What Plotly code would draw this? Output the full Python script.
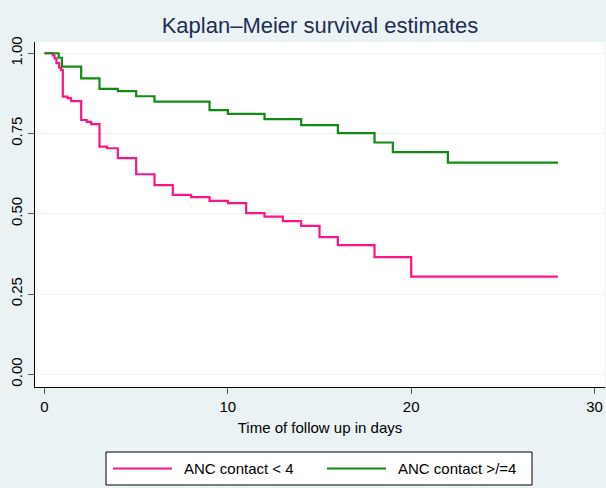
import plotly.graph_objects as go

# Kaplan–Meier step estimates by ANC contact group
series_names = ["ANC contact < 4", "ANC contact >/=4"]

low_times = [0, 0.45, 0.55, 0.65, 0.8, 0.9, 1.0, 1.25, 1.45, 2.0, 2.3, 2.55, 3.0, 3.4,
             4, 5, 6, 7, 8, 9, 10, 11, 12, 13, 14, 15, 16, 18, 20, 28]
low_surv = [1.0, 0.993, 0.984, 0.969, 0.955, 0.948, 0.865, 0.860, 0.851, 0.792, 0.786,
            0.779, 0.709, 0.704, 0.673, 0.623, 0.589, 0.559, 0.552, 0.540, 0.533, 0.502,
            0.491, 0.477, 0.462, 0.427, 0.402, 0.365, 0.304, 0.304]

high_times = [0, 0.77, 0.95, 2, 3, 4, 5, 6, 9, 10, 12, 14, 16, 18, 19, 22, 28]
high_surv = [1.0, 0.986, 0.958, 0.922, 0.889, 0.882, 0.866, 0.849, 0.823, 0.811, 0.795,
             0.776, 0.751, 0.722, 0.692, 0.659, 0.659]

x_ticks = [0, 10, 20, 30]
y_ticks = [0.0, 0.25, 0.5, 0.75, 1.0]
y_tick_text = ["0.00", "0.25", "0.50", "0.75", "1.00"]

colors = ["#FF1487", "#138A13"]

W, H = 606, 488
ML, MR, MT, MB = 35, 1, 42, 101
PW, PH = W - ML - MR, H - MT - MB
FONT = "Liberation Sans, Arial, sans-serif"


def px(xp):
    return (xp - ML) / PW


def py(yp):
    return (H - MB - yp) / PH


fig = go.Figure()
for name, t, s, c in [(series_names[0], low_times, low_surv, colors[0]),
                      (series_names[1], high_times, high_surv, colors[1])]:
    fig.add_trace(go.Scatter(x=t, y=s, mode="lines", name=name,
                             line=dict(color=c, width=2.2, shape="hv"),
                             showlegend=False))

# framed legend below the axis title
shapes = [dict(type="rect", xref="paper", yref="paper",
               x0=px(106), x1=px(532), y0=py(485), y1=py(452),
               line=dict(color="#000000", width=1), fillcolor="#FFFFFF", layer="above")]
annotations = []
entries = [(113, 172, 182), (327, 386, 396)]
for (l0, l1, tx), name, c in zip(entries, series_names, colors):
    shapes.append(dict(type="line", xref="paper", yref="paper",
                       x0=px(l0), x1=px(l1), y0=py(468.5), y1=py(468.5),
                       line=dict(color=c, width=2.2)))
    annotations.append(dict(xref="paper", yref="paper", x=px(tx), y=py(468.5),
                            text=name, showarrow=False, xanchor="left", yanchor="middle",
                            font=dict(family=FONT, size=15, color="#000000")))

fig.update_layout(
    width=W, height=H,
    margin=dict(l=ML, r=MR, t=MT, b=MB),
    paper_bgcolor="#EAF2F3",
    plot_bgcolor="#FFFFFF",
    title=dict(text="Kaplan–Meier survival estimates", x=px(320), xref="paper",
               xanchor="center", y=1 - 25 / H, yref="container", yanchor="middle",
               font=dict(family=FONT, size=22, color="#1E2D53")),
    shapes=shapes,
    annotations=annotations,
    showlegend=False,
)

fig.update_xaxes(
    range=[-0.518, 30.57], tickvals=x_ticks, ticks="outside", ticklen=6,
    tickcolor="#555555", showline=True, linecolor="#000000", linewidth=1,
    showgrid=False, zeroline=False,
    tickfont=dict(family=FONT, size=15, color="#000000"),
    title=dict(text="Time of follow up in days", standoff=8,
               font=dict(family=FONT, size=15, color="#000000")),
)
fig.update_yaxes(
    range=[-0.0396, 1.035], tickvals=y_ticks, ticktext=y_tick_text, tickangle=-90,
    ticks="outside", ticklen=6, tickcolor="#555555", showline=True,
    linecolor="#000000", linewidth=1, showgrid=True, gridcolor="#EAF2F3",
    gridwidth=1, zeroline=False,
    tickfont=dict(family=FONT, size=15, color="#000000"),
)

fig.write_html("out.html")
